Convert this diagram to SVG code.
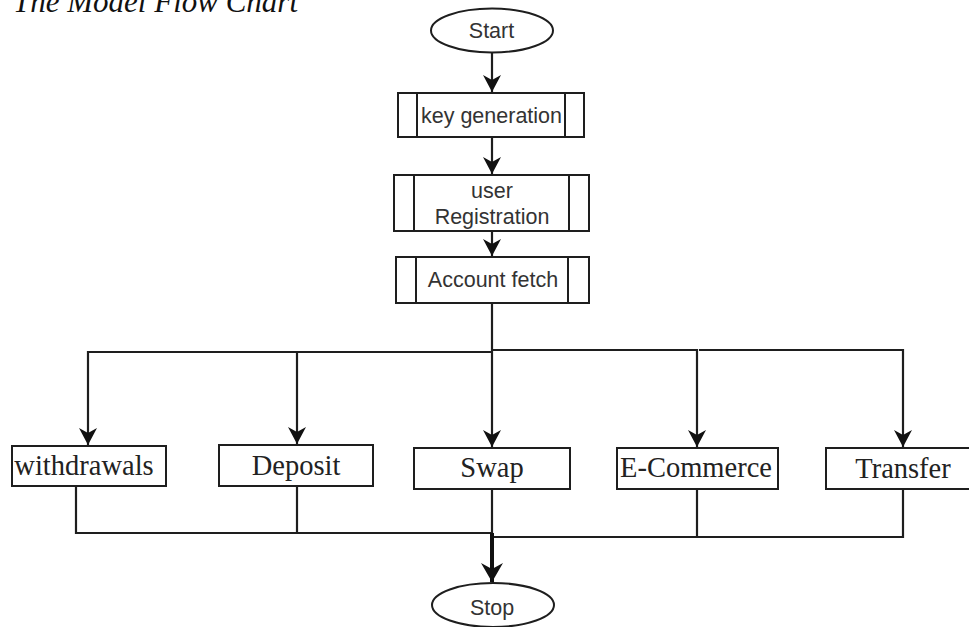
<svg xmlns="http://www.w3.org/2000/svg" width="969" height="627" viewBox="0 0 969 627">
  <defs>
    <style>
      .shape { fill: #ffffff; stroke: #1e1e1e; stroke-width: 2; }
      .bar { stroke: #1e1e1e; stroke-width: 2; fill: none; }
      .wire { stroke: #1e1e1e; stroke-width: 2.2; fill: none; }
      .thick { stroke: #111111; stroke-width: 4; fill: none; }
      .sans { font-family: "Liberation Sans", Arial, sans-serif; font-size: 21.5px; fill: #333333; text-anchor: middle; }
      .serif { font-family: "Liberation Serif", "Times New Roman", serif; font-size: 28.5px; fill: #222222; text-anchor: middle; }
      .title { font-family: "Liberation Serif", "Times New Roman", serif; font-style: italic; font-size: 31px; fill: #111111; }
    </style>
    <marker id="arrow" markerUnits="userSpaceOnUse" markerWidth="20" markerHeight="20" viewBox="-18 -10 20 20" refX="0" refY="0" orient="auto">
      <path d="M0,0 L-17,-9 L-12,0 L-17,9 Z" fill="#111111"/>
    </marker>
    <marker id="arrowBig" markerUnits="userSpaceOnUse" markerWidth="24" markerHeight="24" viewBox="-20 -12 22 24" refX="0" refY="0" orient="auto">
      <path d="M0,0 L-19,-11 L-13,0 L-19,11 Z" fill="#111111"/>
    </marker>
  </defs>

  <rect width="969" height="627" fill="#ffffff"/>

  <!-- caption, partly above the page edge -->
  <text class="title" x="13" y="12">The Model Flow Chart</text>

  <g id="connectors">
    <!-- main spine -->
    <line class="wire" x1="492" y1="53" x2="492" y2="92" marker-end="url(#arrow)"/>
    <line class="wire" x1="492" y1="137" x2="492" y2="174" marker-end="url(#arrow)"/>
    <line class="wire" x1="492" y1="231" x2="492" y2="256" marker-end="url(#arrow)"/>
    <line class="wire" x1="492" y1="303" x2="492" y2="447" marker-end="url(#arrow)"/>
    <!-- fan-out bus -->
    <polyline class="wire" points="492,352 88,352 88,445" marker-end="url(#arrow)"/>
    <line class="wire" x1="297" y1="352" x2="297" y2="444" marker-end="url(#arrow)"/>
    <polyline class="wire" points="492,350 697,350 697,447" marker-end="url(#arrow)"/>
    <polyline class="wire" points="699,350 903,350 903,447" marker-end="url(#arrow)"/>
    <!-- merge bus -->
    <polyline class="wire" points="76,486 76,533 492,533"/>
    <line class="wire" x1="297" y1="486" x2="297" y2="533"/>
    <line class="wire" x1="492" y1="489" x2="492" y2="533"/>
    <polyline class="wire" points="492,537 903,537 903,489"/>
    <line class="wire" x1="697" y1="489" x2="697" y2="537"/>
    <line class="thick" x1="492" y1="533" x2="492" y2="582" marker-end="url(#arrowBig)"/>
  </g>

  <g id="start">
    <ellipse class="shape" cx="492" cy="30.5" rx="61" ry="22"/>
    <text class="sans" x="491.5" y="37.5">Start</text>
  </g>

  <g id="key-generation">
    <rect class="shape" x="398" y="93" width="186" height="44"/>
    <line class="bar" x1="417" y1="93" x2="417" y2="137"/>
    <line class="bar" x1="565" y1="93" x2="565" y2="137"/>
    <text class="sans" x="491.5" y="123">key generation</text>
  </g>

  <g id="user-registration">
    <rect class="shape" x="394" y="175" width="195" height="56"/>
    <line class="bar" x1="414" y1="175" x2="414" y2="231"/>
    <line class="bar" x1="569" y1="175" x2="569" y2="231"/>
    <text class="sans" x="492" y="198">user</text>
    <text class="sans" x="492" y="224">Registration</text>
  </g>

  <g id="account-fetch">
    <rect class="shape" x="396" y="257" width="193" height="46"/>
    <line class="bar" x1="416" y1="257" x2="416" y2="303"/>
    <line class="bar" x1="568" y1="257" x2="568" y2="303"/>
    <text class="sans" x="493" y="287">Account fetch</text>
  </g>

  <g id="withdrawals">
    <rect class="shape" x="12" y="446" width="154" height="40"/>
    <text class="serif" x="84" y="475">withdrawals</text>
  </g>

  <g id="deposit">
    <rect class="shape" x="219" y="445" width="154" height="41"/>
    <text class="serif" x="296" y="475">Deposit</text>
  </g>

  <g id="swap">
    <rect class="shape" x="414" y="448" width="156" height="41"/>
    <text class="serif" x="492" y="477">Swap</text>
  </g>

  <g id="e-commerce">
    <rect class="shape" x="617" y="448" width="161" height="41"/>
    <text class="serif" x="696" y="477">E-Commerce</text>
  </g>

  <g id="transfer">
    <rect class="shape" x="826" y="448" width="150" height="41"/>
    <text class="serif" x="903" y="478">Transfer</text>
  </g>

  <g id="stop">
    <ellipse class="shape" cx="493" cy="605" rx="61" ry="22"/>
    <text class="sans" x="492" y="615">Stop</text>
  </g>
</svg>
